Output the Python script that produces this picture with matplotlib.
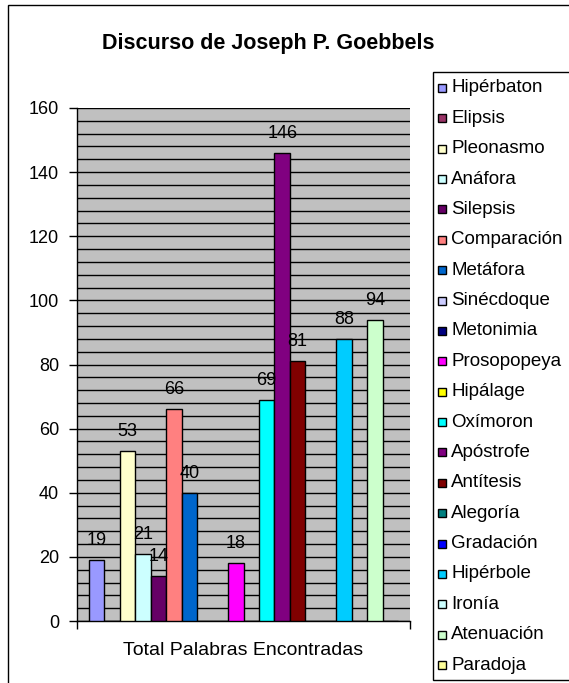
import numpy as np
import matplotlib.pyplot as plt
from matplotlib.patches import Rectangle

plt.rcParams['font.family'] = ['Liberation Sans', 'DejaVu Sans']

figuras = ['Hipérbaton', 'Elipsis', 'Pleonasmo', 'Anáfora', 'Silepsis',
           'Comparación', 'Metáfora', 'Sinécdoque', 'Metonimia', 'Prosopopeya',
           'Hipálage', 'Oxímoron', 'Apóstrofe', 'Antítesis', 'Alegoría',
           'Gradación', 'Hipérbole', 'Ironía', 'Atenuación', 'Paradoja']
palabras = [19, 0, 53, 21, 14, 66, 40, 0, 0, 18,
            0, 69, 146, 81, 0, 0, 88, 0, 94, 0]
colores = ['#9999FF', '#993366', '#FFFFCC', '#CCFFFF', '#660066',
           '#FF8080', '#0066CC', '#CCCCFF', '#000080', '#FF00FF',
           '#FFFF00', '#00FFFF', '#800080', '#800000', '#008080',
           '#0000FF', '#00CCFF', '#CCFFFF', '#CCFFCC', '#FFFF99']
categoria = 'Total Palabras Encontradas'
titulo = 'Discurso de Joseph P. Goebbels'

W, H = 569, 683
fig = plt.figure(figsize=(W / 100, H / 100), dpi=100)

def px(x0, y0, x1, y1):
    # rectangle in pixel coords (top-left origin) -> figure fraction
    return [x0 / W, 1 - y1 / H, (x1 - x0) / W, (y1 - y0) / H]

# marco exterior del grafico
fig.patches.append(Rectangle((8 / W, -0.1), 1.2, 1 - 5 / H + 0.1,
                             transform=fig.transFigure, fill=False,
                             edgecolor='black', lw=1.0))

ax = fig.add_axes(px(77, 108, 410, 621))
ax.set_facecolor('#C0C0C0')

x = np.arange(len(palabras))
ax.bar(x, palabras, width=1.0, color=colores, edgecolor='black', linewidth=1.0,
       zorder=3)
for xi, v in zip(x, palabras):
    if v > 0:
        ax.annotate(str(v), (xi, v), xytext=(0, 14), textcoords='offset points',
                    ha='center', va='center', fontsize=13, zorder=4)

ax.set_xlim(-1.25, len(palabras) - 1 + 1.25)
ax.set_ylim(0, 160)
ax.set_yticks(np.arange(0, 161, 20))
ax.set_yticks(np.arange(0, 161, 4), minor=True)
ax.grid(True, axis='y', which='both', color='black', linewidth=1.0, zorder=1)
ax.set_axisbelow(True)
ax.tick_params(axis='y', which='major', direction='out', length=6, width=1,
               pad=7, labelsize=13)
ax.tick_params(axis='y', which='minor', length=0)

ax.set_xticks([(len(palabras) - 1) / 2])
ax.set_xticklabels([categoria], fontsize=14)
ax.set_xticks([-1.25, len(palabras) - 1 + 1.25], minor=True)
ax.tick_params(axis='x', which='major', length=0, pad=15)
ax.tick_params(axis='x', which='minor', direction='out', length=6, width=1)

for s in ['top', 'right']:
    ax.spines[s].set_visible(False)
for s in ['left', 'bottom']:
    ax.spines[s].set_color('black')
    ax.spines[s].set_linewidth(1.0)

fig.text(268 / W, 1 - 43 / H, titulo, ha='center', va='center',
         fontsize=15.5, fontweight='bold')

# leyenda
fig.patches.append(Rectangle((433 / W, 1 - 680 / H), 1.0, (680 - 72) / H,
                             transform=fig.transFigure, fill=True,
                             facecolor='white', edgecolor='black', lw=1.0))
y0, dy = 88, (665 - 88) / (len(figuras) - 1)
for i, (nombre, c) in enumerate(zip(figuras, colores)):
    yc = y0 + i * dy
    fig.patches.append(Rectangle((438 / W, 1 - (yc + 4) / H), 8 / W, 8 / H,
                                 transform=fig.transFigure, facecolor=c,
                                 edgecolor='black', lw=1.0))
    fig.text(451 / W, 1 - yc / H, nombre, ha='left', va='center', fontsize=13.5)

fig.savefig('out.png', dpi=100)
